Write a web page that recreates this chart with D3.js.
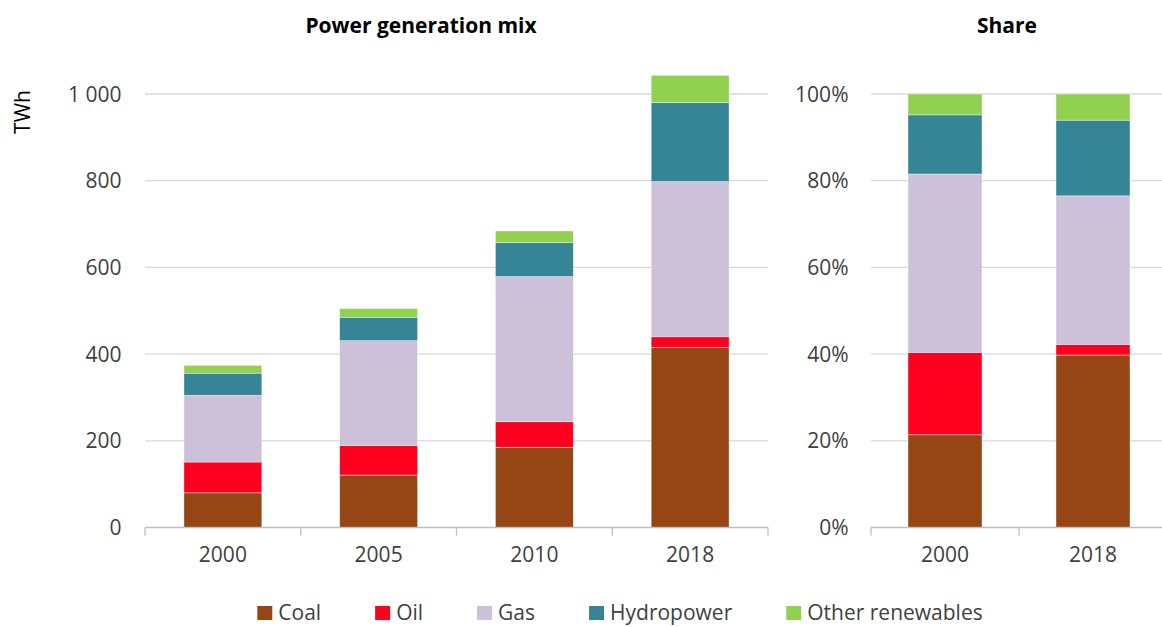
<!DOCTYPE html>
<html><head><meta charset="utf-8">
<script src="https://cdn.jsdelivr.net/npm/d3@7"></script>
<style>
body{margin:0;background:#fff;overflow:hidden}
text{font-family:"Open Sans","Noto Sans",sans-serif}
</style>
</head><body><svg id="c" width="1162" height="627"></svg>
<script>
// ---- data ----
const years = ["2000", "2005", "2010", "2018"];
const shareYears = ["2000", "2018"];
const seriesNames = ["Coal", "Oil", "Gas", "Hydropower", "Other renewables"];
const coal     = [80, 121, 185, 415];
const oil      = [71, 68, 59, 25];
const gas      = [154, 242, 335, 358];
const hydro    = [51, 54, 78, 182];
const otherRen = [18, 20, 27, 63];
const seriesColors = ["#954614", "#ff0021", "#cdc0d9", "#358597", "#92d050"];
const twhTicks = [0, 200, 400, 600, 800, 1000];
const shareTicks = [0, 0.2, 0.4, 0.6, 0.8, 1];
const leftTitle = "Power generation mix";
const rightTitle = "Share";
const yLabel = "TWh";

// ---- build rows ----
const seriesValues = [coal, oil, gas, hydro, otherRen];
const rows = years.map((y, i) => {
  const r = {year: y};
  seriesNames.forEach((s, k) => r[s] = seriesValues[k][i]);
  return r;
});
const shareRows = rows.filter(r => shareYears.includes(r.year));

const svg = d3.select("#c");
const color = d3.scaleOrdinal().domain(seriesNames).range(seriesColors);
const loc = d3.formatLocale({decimal: ".", thousands: "\u2009", grouping: [3], currency: ["", ""]});
const fmtTwh = v => loc.format(",")(v).replace("\u2009", " ");
const fmtPct = d3.format(".0%");

const yBottom = 527.5, yTopPx = 94;
const gridColor = "#d9d9d9", axisColor = "#bfbfbf", textColor = "#404040";

function panel(opts) {
  const {x0, x1, gridEnd, cats, data, y, ticks, fmt, labelX} = opts;
  const x = d3.scaleBand().domain(cats).range([x0, x1]).paddingInner(0.5).paddingOuter(0.25);
  const g = svg.append("g");
  // gridlines
  g.selectAll("line.grid").data(ticks.filter(t => t !== 0)).join("line")
    .attr("x1", x0).attr("x2", gridEnd)
    .attr("y1", d => y(d)).attr("y2", d => y(d))
    .attr("stroke", gridColor).attr("stroke-width", 1.3);
  // y labels
  g.selectAll("text.yl").data(ticks).join("text")
    .attr("x", labelX).attr("y", d => y(d)).attr("dy", "0.36em")
    .attr("text-anchor", "end").attr("font-size", 21).attr("fill", textColor)
    .text(fmt);
  // bars
  const stacked = opts.stack(data);
  g.selectAll("g.s").data(stacked).join("g")
    .attr("fill", d => color(d.key))
    .selectAll("rect").data(d => d).join("rect")
    .attr("x", d => x(d.data.year))
    .attr("width", x.bandwidth())
    .attr("y", d => y(d[1]))
    .attr("height", d => y(d[0]) - y(d[1]))
    .attr("stroke", "#ffffff").attr("stroke-opacity", 0.55).attr("stroke-width", 0.7);
  // x axis
  g.append("line").attr("x1", x0).attr("x2", gridEnd)
    .attr("y1", yBottom).attr("y2", yBottom)
    .attr("stroke", axisColor).attr("stroke-width", 1.3);
  const step = x.step();
  const bounds = d3.range(cats.length + 1).map(i => x0 + i * step);
  g.selectAll("line.tk").data(bounds).join("line")
    .attr("x1", d => d).attr("x2", d => d)
    .attr("y1", yBottom).attr("y2", yBottom + 8)
    .attr("stroke", axisColor).attr("stroke-width", 1.3);
  g.selectAll("text.xl").data(cats).join("text")
    .attr("x", d => x(d) + x.bandwidth() / 2).attr("y", 561.5)
    .attr("text-anchor", "middle").attr("font-size", 21).attr("fill", textColor)
    .text(d => d);
}

// left panel
const yLeft = d3.scaleLinear().domain([0, 1000]).range([yBottom, yTopPx]);
panel({
  x0: 145, x1: 768, gridEnd: 768, cats: years, data: rows, y: yLeft,
  ticks: twhTicks, fmt: fmtTwh, labelX: 121.5,
  stack: d3.stack().keys(seriesNames)
});
// right panel
const yRight = d3.scaleLinear().domain([0, 1]).range([yBottom, yTopPx]);
panel({
  x0: 871, x1: 1167, gridEnd: 1167, cats: shareYears, data: shareRows, y: yRight,
  ticks: shareTicks, fmt: fmtPct, labelX: 848.5,
  stack: d3.stack().keys(seriesNames).offset(d3.stackOffsetExpand)
});

// titles
svg.append("text").attr("x", 421).attr("y", 33).attr("text-anchor", "middle")
  .attr("font-size", 21).attr("font-weight", "bold").attr("fill", "#000").text(leftTitle);
svg.append("text").attr("x", 1007).attr("y", 33).attr("text-anchor", "middle")
  .attr("font-size", 21).attr("font-weight", "bold").attr("fill", "#000").text(rightTitle);
// y label
svg.append("text").attr("transform", "translate(30,112) rotate(-90)")
  .attr("text-anchor", "middle").attr("font-size", 21).attr("fill", "#000").text(yLabel);

// legend (flow layout)
const lg = svg.append("g");
const items = lg.selectAll("g").data(seriesNames).join("g");
items.append("rect").attr("width", 15).attr("height", 14).attr("y", 606).attr("fill", d => color(d));
items.append("text").attr("x", 21).attr("y", 620).attr("font-size", 21).attr("fill", textColor).text(d => d);
let cx = 0;
const gap = 54;
items.each(function () {
  const w = 21 + d3.select(this).select("text").node().getComputedTextLength();
  d3.select(this).attr("data-x", cx);
  cx += w + gap;
});
const total = cx - gap;
const startX = 620 - total / 2;
items.attr("transform", function () { return `translate(${startX + (+this.getAttribute("data-x"))},0)`; });
</script>
</body></html>
